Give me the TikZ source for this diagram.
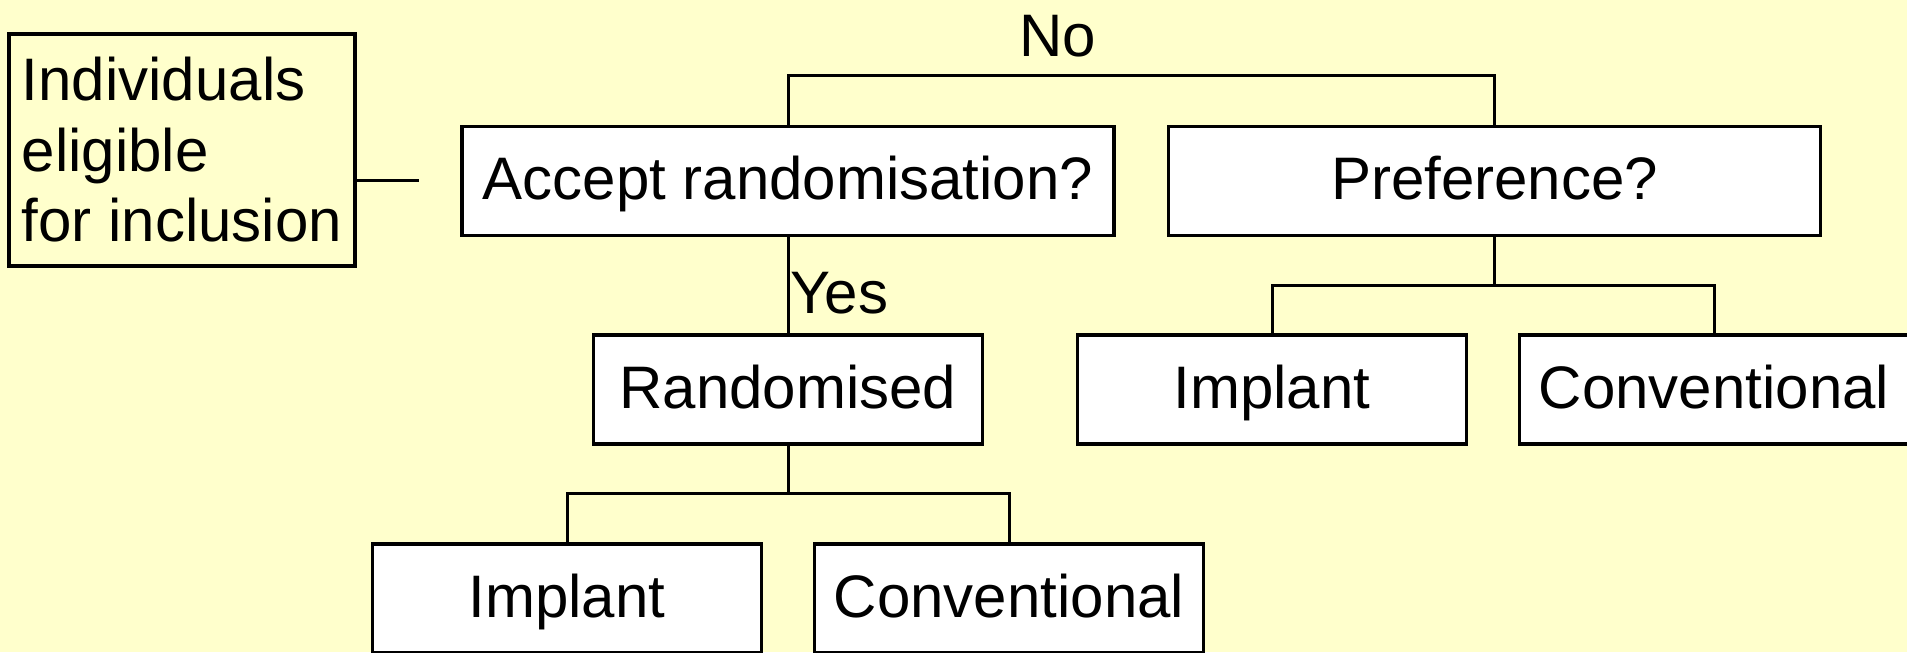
\documentclass[tikz,border=0pt]{standalone}
\usepackage{fontspec}
\setmainfont{Liberation Sans}
\usepackage{tikz}
\definecolor{paper}{HTML}{FFFFCC}

\begin{document}
\begin{tikzpicture}[
  every node/.style={font=\fontsize{34.14}{40.1}\selectfont},
  box/.style={draw, fill=white, line width=.068cm, minimum height=2.18cm,
    text height=.864cm, text depth=.108cm, inner sep=0pt},
  widebox/.style={box, minimum width=13.04cm},
  smallbox/.style={box, minimum width=7.78cm},
  link/.style={line width=.06cm},
  lbl/.style={inner sep=0pt, anchor=base west}]
% background
\useasboundingbox (0,0) rectangle (38.14,13.04);
\fill [paper] (0,0) rectangle (38.14,13.04);
\clip (0,0) rectangle (38.14,13.04);
% start box
\node [draw, line width=.068cm, align=left, minimum width=6.92cm, minimum height=4.64cm,
  inner sep=0pt] (indiv) at (3.64,10.04) {Individuals\\eligible\\for inclusion};
% questions
\node [widebox] (accept) at (15.76,9.42) {Accept randomisation?};
\node [widebox] (pref) at (29.89,9.42) {Preference?};
% arms
\node [smallbox] (rand) at (15.76,5.25) {Randomised};
\node [smallbox] (implB) at (25.44,5.25) {Implant};
\node [smallbox] (convB) at (34.28,5.25) {Conventional};
\node [smallbox] (implA) at (11.34,1.07) {Implant};
\node [smallbox] (convA) at (20.18,1.07) {Conventional};
% answers
\node [lbl] (no) at (20.38,11.9) {No};
\node [lbl] (yes) at (15.80,6.78) {Yes};
% links
\coordinate (stub) at (8.37,9.42);
\draw [link] (indiv.east |- stub) -- (stub);
\draw [link] (accept.north) -- ++(0,.98) -| (pref.north);
\draw [link] (accept) -- (rand);
\draw [link] (rand.south) -- ++(0,-.96) -| (implA.north);
\draw [link] (rand.south) ++(0,-.96) -| (convA.north);
\draw [link] (pref.south) -- ++(0,-.96) -| (implB.north);
\draw [link] (pref.south) ++(0,-.96) -| (convB.north);
\end{tikzpicture}
\end{document}
